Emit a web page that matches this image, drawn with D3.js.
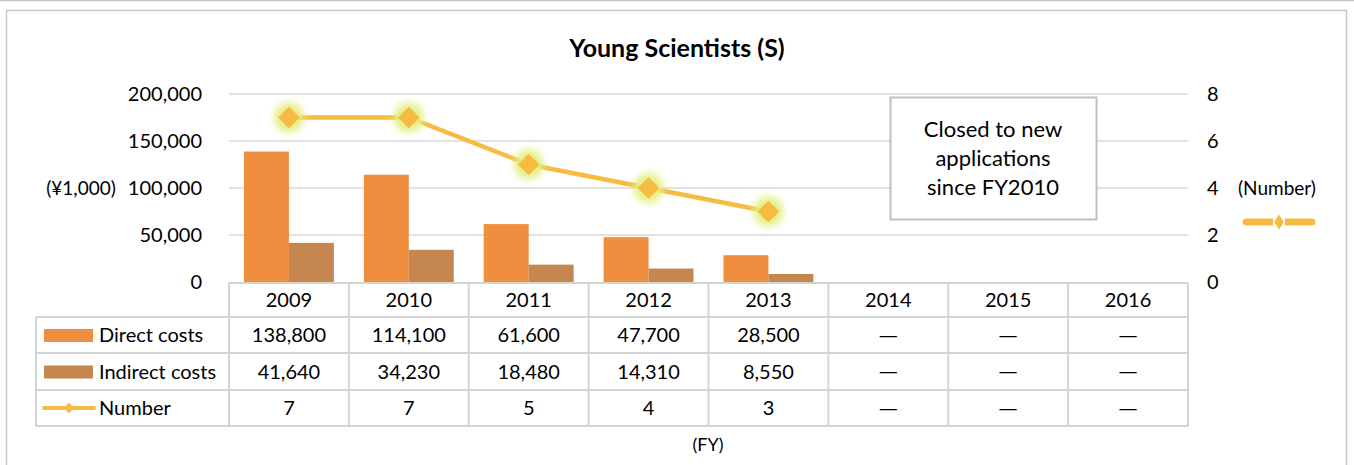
<!DOCTYPE html>
<html>
<head>
<meta charset="utf-8">
<script src="https://cdn.jsdelivr.net/npm/d3@7"></script>
<style>
  body { margin: 0; background: #fff; }
  svg { display: block; font-family: Lato, "Open Sans", sans-serif; }
</style>
</head>
<body>
<div id="chart"></div>
<script>
// data
var years = ["2009", "2010", "2011", "2012", "2013", "2014", "2015", "2016"];
var directCosts = [138800, 114100, 61600, 47700, 28500, null, null, null];
var indirectCosts = [41640, 34230, 18480, 14310, 8550, null, null, null];
var numbers = [7, 7, 5, 4, 3, null, null, null];
var leftTicks = [0, 50000, 100000, 150000, 200000];
var rightTicks = [0, 2, 4, 6, 8];
var seriesNames = ["Direct costs", "Indirect costs", "Number"];

var colDirect = "#F08E40", colIndirect = "#C5874F", colLine = "#F5BC41";
var gridCol = "#D9D9D9", tableCol = "#D4D4D4";

var svgWidth = 1354, svgHeight = 465;
var svg = d3.select("#chart").append("svg")
    .attr("width", svgWidth)
    .attr("height", svgHeight);

var defs = svg.append("defs");
var glow = defs.append("filter").attr("id", "glow")
    .attr("x", "-100%").attr("y", "-100%").attr("width", "300%").attr("height", "300%");
glow.append("feGaussianBlur").attr("stdDeviation", 3.5);

// outer frame
svg.append("line").attr("x1", 0).attr("x2", svgWidth).attr("y1", 0.5).attr("y2", 0.5)
    .attr("stroke", "#C8C8C8").attr("stroke-width", 1.5);
svg.append("rect").attr("x", 6.5).attr("y", 10.5).attr("width", 1340).attr("height", 470)
    .attr("fill", "none").attr("stroke", "#C8C8C8").attr("stroke-width", 1.5);

var margin = { left: 229, right: 1188, top: 94, bottom: 282 };

var x = d3.scaleBand().domain(years).range([margin.left, margin.right]);
var x1 = d3.scaleBand().domain(["direct", "indirect"]).range([0, x.bandwidth()])
    .paddingInner(0).paddingOuter(1 / 3);
var y = d3.scaleLinear().domain([0, 200000]).range([margin.bottom, margin.top]);
var y2 = d3.scaleLinear().domain([0, 8]).range([margin.bottom, margin.top]);

// title
svg.append("text").attr("x", 677).attr("y", 57).attr("text-anchor", "middle")
    .style("font-size", "25px").style("font-weight", "bold").text("Young Scientists (S)");

// gridlines
svg.append("g").selectAll("line").data(leftTicks.filter(d => d > 0)).enter().append("line")
    .attr("x1", margin.left).attr("x2", margin.right)
    .attr("y1", d => y(d)).attr("y2", d => y(d))
    .attr("stroke", gridCol).attr("stroke-width", 1.5);

// left axis
var yAxis = svg.append("g").attr("transform", "translate(" + (margin.left - 15) + ",0)")
    .call(d3.axisLeft(y).tickValues(leftTicks).tickSize(0).tickPadding(12).tickFormat(d3.format(",")));
yAxis.select(".domain").remove();
yAxis.selectAll("text").style("font-size", "20px").style("font-family", "Lato, sans-serif").attr("fill", "#000");

// right axis
var y2Axis = svg.append("g").attr("transform", "translate(" + (margin.right + 13) + ",0)")
    .call(d3.axisRight(y2).tickValues(rightTicks).tickSize(0).tickPadding(6));
y2Axis.select(".domain").remove();
y2Axis.selectAll("text").style("font-size", "20px").style("font-family", "Lato, sans-serif").attr("fill", "#000");

svg.append("text").attr("x", 81).attr("y", 195).attr("text-anchor", "middle")
    .style("font-size", "19px").text("(¥1,000)");
svg.append("text").attr("x", 1277).attr("y", 195).attr("text-anchor", "middle")
    .style("font-size", "19px").text("(Number)");

// bars
var bars = svg.append("g");
bars.selectAll(".direct").data(years.map((yr, i) => ({ yr: yr, v: directCosts[i] })).filter(d => d.v != null))
    .enter().append("rect").attr("class", "direct")
    .attr("x", d => x(d.yr) + x1("direct")).attr("width", x1.bandwidth())
    .attr("y", d => y(d.v)).attr("height", d => y(0) - y(d.v))
    .attr("fill", colDirect);
bars.selectAll(".indirect").data(years.map((yr, i) => ({ yr: yr, v: indirectCosts[i] })).filter(d => d.v != null))
    .enter().append("rect").attr("class", "indirect")
    .attr("x", d => x(d.yr) + x1("indirect")).attr("width", x1.bandwidth())
    .attr("y", d => y(d.v)).attr("height", d => y(0) - y(d.v))
    .attr("fill", colIndirect);

// line with glowing diamond markers
var pts = years.map((yr, i) => ({ yr: yr, v: numbers[i] })).filter(d => d.v != null);
var line = d3.line().x(d => x(d.yr) + x.bandwidth() / 2).y(d => y2(d.v));
svg.append("path").datum(pts).attr("d", line)
    .attr("fill", "none").attr("stroke", colLine).attr("stroke-width", 4.5);
var mk = svg.append("g").selectAll("g").data(pts).enter().append("g")
    .attr("transform", d => "translate(" + (x(d.yr) + x.bandwidth() / 2) + "," + y2(d.v) + ")");
mk.append("circle").attr("r", 15).attr("fill", "#E6EE86").attr("filter", "url(#glow)");
var diamond = d3.symbol().type(d3.symbolDiamond2).size(300);
mk.append("path").attr("d", diamond).attr("fill", colLine);

// annotation box
svg.append("rect").attr("x", 890.5).attr("y", 97.5).attr("width", 206).attr("height", 122)
    .attr("fill", "#fff").attr("stroke", "#BFBFBF").attr("stroke-width", 2);
svg.append("text").attr("x", 993).attr("text-anchor", "middle").style("font-size", "22px")
    .selectAll("tspan").data(["Closed to new", "applications", "since FY2010"]).enter().append("tspan")
    .attr("x", 993).attr("y", (d, i) => 137 + i * 29).text(d => d);

// marker under (Number)
var side = svg.append("g").attr("transform", "translate(1279,222)");
side.append("line").attr("x1", -33).attr("x2", 33).attr("stroke", colLine)
    .attr("stroke-width", 7).attr("stroke-linecap", "round");
side.append("rect").attr("x", -6).attr("y", -6).attr("width", 12).attr("height", 12).attr("fill", "#fff");
side.append("path").attr("d", d3.symbol().type(d3.symbolDiamond2).size(90)).attr("fill", colLine)
    .attr("transform", "scale(0.8,1.3)");

// data table
var rowY = [283, 317, 353, 390, 426];
var tableLeft = 36;
var tbl = svg.append("g").attr("stroke", tableCol).attr("stroke-width", 2);
// horizontal lines
tbl.append("line").attr("x1", margin.left).attr("x2", margin.right).attr("y1", rowY[0]).attr("y2", rowY[0]);
rowY.slice(1).forEach(function (ry) {
    tbl.append("line").attr("x1", tableLeft).attr("x2", margin.right).attr("y1", ry).attr("y2", ry);
});
// vertical lines
tbl.append("line").attr("x1", tableLeft).attr("x2", tableLeft).attr("y1", rowY[1]).attr("y2", rowY[4]);
years.forEach(function (yr) {
    tbl.append("line").attr("x1", x(yr)).attr("x2", x(yr)).attr("y1", rowY[0]).attr("y2", rowY[4]);
});
tbl.append("line").attr("x1", margin.right).attr("x2", margin.right).attr("y1", rowY[0]).attr("y2", rowY[4]);

var cellText = svg.append("g").style("font-size", "20px").attr("text-anchor", "middle");
cellText.selectAll(".yr").data(years).enter().append("text")
    .attr("x", d => x(d) + x.bandwidth() / 2).attr("y", (rowY[0] + rowY[1]) / 2 + 7).text(d => d);

var fmt = d3.format(",");
[directCosts, indirectCosts, numbers].forEach(function (vals, r) {
    var cy = (rowY[r + 1] + rowY[r + 2]) / 2 + 7;
    vals.forEach(function (v, i) {
        var cx = x(years[i]) + x.bandwidth() / 2;
        if (v == null) {
            cellText.append("text").attr("x", cx).attr("y", cy).text("\u2014")
                .attr("transform", "translate(" + cx + ",0) scale(1.3,1) translate(" + (-cx) + ",0)");
        } else {
            cellText.append("text").attr("x", cx).attr("y", cy).text(fmt(v));
        }
    });
    // legend label
    svg.append("text").attr("x", 99).attr("y", cy).style("font-size", "20px").text(seriesNames[r]);
});

// legend keys in table
var midRow = r => (rowY[r + 1] + rowY[r + 2]) / 2;
svg.append("rect").attr("x", 44).attr("y", midRow(0) - 6).attr("width", 49).attr("height", 13).attr("fill", colDirect);
svg.append("rect").attr("x", 44).attr("y", midRow(1) - 6).attr("width", 49).attr("height", 13).attr("fill", colIndirect);
svg.append("line").attr("x1", 44).attr("x2", 94).attr("y1", midRow(2)).attr("y2", midRow(2))
    .attr("stroke", colLine).attr("stroke-width", 4).attr("stroke-linecap", "round");
svg.append("path").attr("d", d3.symbol().type(d3.symbolDiamond2).size(70)).attr("fill", colLine)
    .attr("transform", "translate(69," + midRow(2) + ")");

svg.append("text").attr("x", 708).attr("y", 451).attr("text-anchor", "middle")
    .style("font-size", "18px").text("(FY)");
</script>
</body>
</html>
